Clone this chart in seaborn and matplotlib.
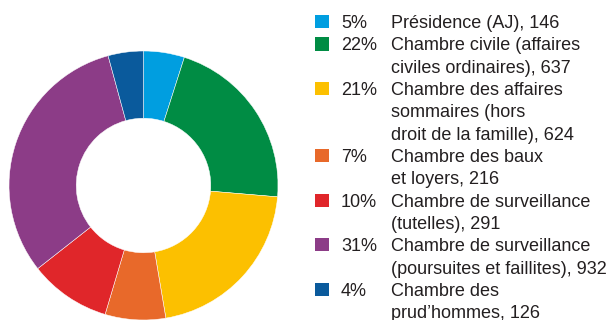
import matplotlib
matplotlib.use("Agg")
import matplotlib.pyplot as plt
from matplotlib.patches import Rectangle
import seaborn as sns

# Case counts by chamber
chambers = [
    "Présidence (AJ), 146",
    "Chambre civile (affaires\nciviles ordinaires), 637",
    "Chambre des affaires\nsommaires (hors\ndroit de la famille), 624",
    "Chambre des baux\net loyers, 216",
    "Chambre de surveillance\n(tutelles), 291",
    "Chambre de surveillance\n(poursuites et faillites), 932",
    "Chambre des\nprud’hommes, 126",
]
counts = [146, 637, 624, 216, 291, 932, 126]
shares = ["5%", "22%", "21%", "7%", "10%", "31%", "4%"]
colors = ["#009ee0", "#008c44", "#fcc000", "#e8692a", "#e0262a", "#8c3c87", "#0a5a9c"]

sns.set_theme(style="white")
plt.rcParams["font.family"] = ["Liberation Sans", "DejaVu Sans"]

W, H = 611, 320
fig = plt.figure(figsize=(W / 100, H / 100), dpi=100)

# Donut: centre (143.5, 185.5) px, radius 134.5 px
cx, cy, r = 143.5, 185.5, 134.5
ax = fig.add_axes([(cx - r) / W, (H - cy - r) / H, 2 * r / W, 2 * r / H])
ax.pie(counts, colors=colors, startangle=90, counterclock=False, radius=1,
       wedgeprops=dict(width=0.5, edgecolor="white", linewidth=0.35))
ax.set_xlim(-1, 1)
ax.set_ylim(-1, 1)
ax.set_aspect("equal")
ax.axis("off")

# Legend drawn in pixel coordinates
text_color = "#231f20"
fs = 13
y0, lh = 21.7, 22.3
line = 0
for share, label, col in zip(shares, chambers, colors):
    y = y0 + line * lh
    fig.patches.append(Rectangle((315 / W, 1 - (y + 6.5) / H), 14 / W, 13 / H,
                                 transform=fig.transFigure, facecolor=col,
                                 edgecolor="none"))
    fig.text(341 / W, 1 - y / H, share, fontsize=fs, color=text_color,
             va="center_baseline", ha="left")
    for k, part in enumerate(label.split("\n")):
        fig.text(391 / W, 1 - (y + k * lh) / H, part, fontsize=fs,
                 color=text_color, va="center_baseline", ha="left")
    line += len(label.split("\n"))

fig.savefig("out.png", dpi=100)
